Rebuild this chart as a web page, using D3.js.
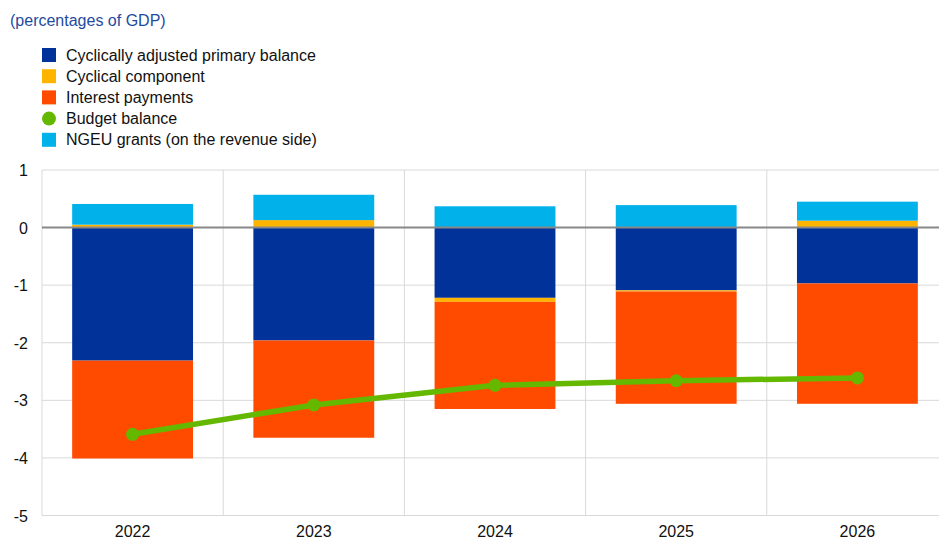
<!DOCTYPE html>
<html>
<head>
<meta charset="utf-8">
<script src="https://cdn.jsdelivr.net/npm/d3@7"></script>
<style>
  body { margin: 0; background: #fff; }
  svg { font-family: "Liberation Sans", Arial, sans-serif; }
</style>
</head>
<body>
<svg id="chart" width="939" height="540"></svg>
<script>
// data
var years = ['2022', '2023', '2024', '2025', '2026'];
var capb = [-2.31, -1.96, -1.22, -1.09, -0.97];
var cyclical = [0.05, 0.13, -0.07, -0.02, 0.12];
var interest = [-1.70, -1.69, -1.86, -1.95, -2.09];
var ngeu = [0.36, 0.44, 0.37, 0.39, 0.33];
var budget = [-3.59, -3.08, -2.74, -2.66, -2.61];
var yTicks = [1, 0, -1, -2, -3, -4, -5];

var seriesKeys = ['capb', 'cyclical', 'interest', 'ngeu'];
var colors = { capb: '#003299', cyclical: '#ffb400', interest: '#ff4b00', ngeu: '#00b1ea', budget: '#65b800' };

var legendItems = [
  { label: 'Cyclically adjusted primary balance', color: colors.capb, shape: 'rect' },
  { label: 'Cyclical component', color: colors.cyclical, shape: 'rect' },
  { label: 'Interest payments', color: colors.interest, shape: 'rect' },
  { label: 'Budget balance', color: colors.budget, shape: 'circle' },
  { label: 'NGEU grants (on the revenue side)', color: colors.ngeu, shape: 'rect' }
];

(function () {
  var rows = years.map(function (yr, i) {
    return { year: yr, capb: capb[i], cyclical: cyclical[i], interest: interest[i], ngeu: ngeu[i] };
  });

  var svg = d3.select('#chart');
  var plotLeft = 42, plotRight = 948, plotTop = 170, plotBottom = 515.5;

  var x = d3.scaleBand().domain(years).range([plotLeft, plotRight]).paddingInner(0.333).paddingOuter(0.1665);
  var xGrid = d3.scaleBand().domain(years).range([plotLeft, plotRight]);
  var y = d3.scaleLinear().domain([-5, 1]).range([plotBottom, plotTop]);

  // title
  svg.append('text').attr('x', 10).attr('y', 26).attr('fill', '#1e4ba0')
    .style('font-size', '16px').text('(percentages of GDP)');

  // legend
  var lg = svg.append('g');
  legendItems.forEach(function (d, i) {
    var cy = 55 + i * 21.2;
    if (d.shape === 'rect') {
      lg.append('rect').attr('x', 42).attr('y', cy - 7).attr('width', 14).attr('height', 14).attr('fill', d.color);
    } else {
      lg.append('circle').attr('cx', 49).attr('cy', cy).attr('r', 7).attr('fill', d.color);
    }
    lg.append('text').attr('x', 66).attr('y', cy + 5.5).attr('fill', '#111')
      .style('font-size', '16px').text(d.label);
  });

  // grid
  svg.append('g').selectAll('line').data(yTicks.filter(function (t) { return t !== 0; }))
    .enter().append('line')
    .attr('x1', plotLeft).attr('x2', plotRight)
    .attr('y1', function (d) { return y(d); }).attr('y2', function (d) { return y(d); })
    .attr('stroke', '#d9d9d9').attr('stroke-width', 1);

  var vLines = [plotLeft].concat(years.slice(1).map(function (d) { return xGrid(d); }));
  svg.append('g').selectAll('line').data(vLines)
    .enter().append('line')
    .attr('x1', function (d) { return d; }).attr('x2', function (d) { return d; })
    .attr('y1', plotTop).attr('y2', plotBottom)
    .attr('stroke', '#d9d9d9').attr('stroke-width', 1);

  // stacked bars
  var stacked = d3.stack().keys(seriesKeys).offset(d3.stackOffsetDiverging)(rows);

  svg.append('g').selectAll('g').data(stacked).enter().append('g')
    .attr('fill', function (d) { return colors[d.key]; })
    .selectAll('rect').data(function (d) { return d; }).enter().append('rect')
    .attr('x', function (d) { return x(d.data.year); })
    .attr('width', x.bandwidth())
    .attr('y', function (d) { return y(Math.max(d[0], d[1])); })
    .attr('height', function (d) { return Math.abs(y(d[0]) - y(d[1])); });

  // zero line
  svg.append('line').attr('x1', plotLeft).attr('x2', plotRight).attr('y1', y(0)).attr('y2', y(0))
    .attr('stroke', '#888').attr('stroke-width', 2);

  // budget balance line
  var cx = function (d, i) { return x(years[i]) + x.bandwidth() / 2; };
  var line = d3.line().x(cx).y(function (d) { return y(d); });

  svg.append('path').datum(budget).attr('d', line)
    .attr('fill', 'none').attr('stroke', colors.budget).attr('stroke-width', 5.5);

  svg.append('g').selectAll('circle').data(budget).enter().append('circle')
    .attr('cx', cx)
    .attr('cy', function (d) { return y(d); })
    .attr('r', 6.5).attr('fill', colors.budget);

  // y axis labels
  svg.append('g').selectAll('text').data(yTicks).enter().append('text')
    .attr('x', 28).attr('y', function (d) { return y(d) + 6; })
    .attr('text-anchor', 'end').attr('fill', '#111')
    .style('font-size', '16px').text(function (d) { return d; });

  // x axis labels
  svg.append('g').selectAll('text').data(years).enter().append('text')
    .attr('x', function (d) { return x(d) + x.bandwidth() / 2; })
    .attr('y', 537)
    .attr('text-anchor', 'middle').attr('fill', '#111')
    .style('font-size', '16px').text(function (d) { return d; });
})();
</script>
</body>
</html>
